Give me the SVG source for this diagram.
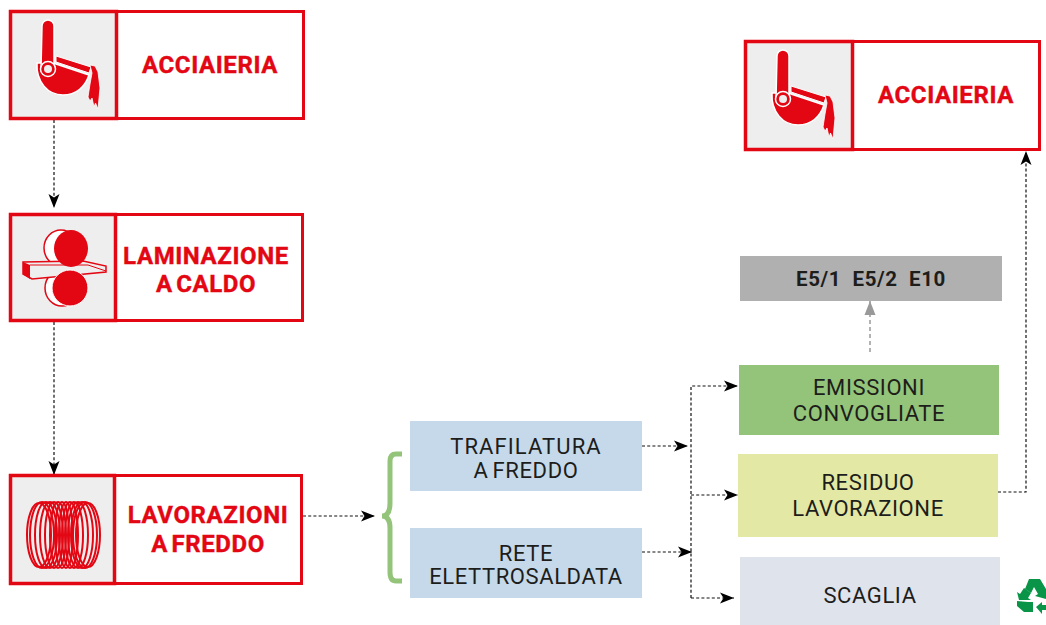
<svg xmlns="http://www.w3.org/2000/svg" xmlns:xlink="http://www.w3.org/1999/xlink" width="1046" height="625" viewBox="0 0 1046 625">
<style>
.frame{fill:#fff;stroke:#e30613;stroke-width:3}
.ico{fill:#eeeeee;stroke:#e30613;stroke-width:3.500}
.rt{font-family:"Roboto","Liberation Sans",sans-serif;font-weight:700;font-size:24px;fill:#e30613;stroke:#e30613;stroke-width:.4;text-anchor:middle;letter-spacing:.6px;word-spacing:-3px}
.bt{font-family:"Roboto","Liberation Sans",sans-serif;font-size:22px;fill:#1d1d1b;text-anchor:middle;letter-spacing:.6px;word-spacing:-2px}
.con{fill:none;stroke:#111;stroke-width:1.200;stroke-dasharray:3 2.200}
.con2{fill:none;stroke:#999;stroke-width:1.500;stroke-dasharray:4 3}
</style>
<defs>
<marker id="ah" markerUnits="userSpaceOnUse" markerWidth="16" markerHeight="12" refX="14" refY="6" orient="auto"><path d="M0 0.500L14 6L0 11.500L3.500 6Z" fill="#000"/></marker>
<marker id="ag" markerUnits="userSpaceOnUse" markerWidth="16" markerHeight="14" refX="14" refY="6" orient="auto"><path d="M0 0.500L14 6L0 11.500L0 6Z" fill="#999"/></marker>
<g id="ladle">
<path d="M37 63C36 82 48 95 63 95C76 95 85 87 89 75L56 64L54 63Z" fill="#e30613" stroke="#fff" stroke-width="1.500"/>
<path d="M56 56L91 67L89 73L56 62Z" fill="#e30613" stroke="#fff" stroke-width="1"/>
<path d="M90 65L95 66L98 72L100 88L98 109L95.500 103L94 107L92 98L90 101L88 97L90 84L92 73Z" fill="#e30613" stroke="#fff" stroke-width=".8"/>
<path d="M42 26A6 6 0 0 1 54 26V69A6.500 6.500 0 0 1 41 69Z" fill="#e30613" stroke="#fff" stroke-width="1.500"/>
<circle cx="48" cy="69" r="7.500" fill="#e30613" stroke="#fff" stroke-width="1.500"/>
<circle cx="48" cy="69" r="4" fill="#eee"/>
</g>
</defs>

<g id="connectors">
<path class="con" d="M54 120V208" marker-end="url(#ah)"/>
<path class="con" d="M54 322V475" marker-end="url(#ah)"/>
<path class="con" d="M303 516H375" marker-end="url(#ah)"/>
<path class="con" d="M642 446H688" marker-end="url(#ah)"/>
<path class="con" d="M642 552H692" marker-end="url(#ah)"/>
<path class="con" d="M691 598V386H738" marker-end="url(#ah)"/>
<path class="con" d="M691 495H738" marker-end="url(#ah)"/>
<path class="con" d="M691 598H734" marker-end="url(#ah)"/>
<path class="con" d="M998 492H1026V151" marker-end="url(#ah)"/>
<path class="con2" d="M870 352V301" marker-end="url(#ag)"/>
<path d="M402 454H396Q390 454 390 461V503Q390 516 382 516Q390 516 390 528V572Q390 581 396 581H402" fill="none" stroke="#93c47a" stroke-width="5"/>
</g>

<g id="n-acciaieria-1">
<rect class="frame" x="10.500" y="11.500" width="293" height="107"/>
<rect class="ico" x="10.500" y="11.500" width="106" height="107"/>
<use href="#ladle"/>
<text class="rt" x="210" y="73">ACCIAIERIA</text>
</g>

<g id="n-laminazione">
<rect class="frame" x="10.500" y="214.500" width="292" height="106"/>
<rect class="ico" x="10.500" y="214.500" width="105" height="106"/>
<g stroke="#e30613" stroke-width="1.500" fill="#fff">
<ellipse cx="61" cy="248" rx="17" ry="18"/>
<ellipse cx="62" cy="288" rx="17" ry="18"/>
</g>
<path d="M23 262L83 261L106 266V272L32 279L23 274Z" fill="#eee" stroke="#e30613" stroke-width="1.500"/>
<path d="M23 262L30 265V279L23 274Z" fill="#e30613"/>
<path d="M30 265H88L106 271" fill="none" stroke="#e30613" stroke-width="1"/>
<ellipse cx="71" cy="248.500" rx="17" ry="18.500" fill="#e30613"/>
<ellipse cx="70" cy="288" rx="18" ry="18" fill="#e30613" stroke="#fff" stroke-width="1"/>
<text class="rt" x="206" y="264">LAMINAZIONE</text>
<text class="rt" x="206" y="292">A CALDO</text>
</g>

<g id="n-lavorazioni">
<rect class="frame" x="10.500" y="475.500" width="291" height="108"/>
<rect class="ico" x="10.500" y="475.500" width="104" height="108"/>
<g fill="none" stroke="#e30613" stroke-width="2">
<ellipse cx="39" cy="535" rx="12" ry="32"/><ellipse cx="42" cy="535" rx="12" ry="33"/><ellipse cx="46" cy="535" rx="11" ry="33"/><ellipse cx="50" cy="535" rx="10" ry="33"/><ellipse cx="54" cy="535" rx="9" ry="33"/><ellipse cx="58" cy="535" rx="8" ry="33"/><ellipse cx="62" cy="535" rx="7" ry="33"/><ellipse cx="66" cy="535" rx="7" ry="33"/><ellipse cx="70" cy="535" rx="8" ry="33"/><ellipse cx="74" cy="535" rx="9" ry="33"/><ellipse cx="78" cy="535" rx="10" ry="33"/><ellipse cx="82" cy="535" rx="11" ry="33"/><ellipse cx="85" cy="535" rx="12" ry="33"/><ellipse cx="88" cy="535" rx="12" ry="32"/>
</g>
<text class="rt" x="208" y="523">LAVORAZIONI</text>
<text class="rt" x="208" y="552">A FREDDO</text>
</g>

<g id="n-trafilatura">
<rect x="410" y="421" width="232" height="70" fill="#c5d9ea"/>
<text class="bt" x="526" y="454" style="letter-spacing:1.100px">TRAFILATURA</text>
<text class="bt" x="526" y="478">A FREDDO</text>
</g>
<g id="n-rete">
<rect x="410" y="528" width="232" height="70" fill="#c5d9ea"/>
<text class="bt" x="526" y="561">RETE</text>
<text class="bt" x="526" y="584">ELETTROSALDATA</text>
</g>
<g id="n-emissioni">
<rect x="739" y="365" width="260" height="70" fill="#93c47a"/>
<text class="bt" x="869" y="395">EMISSIONI</text>
<text class="bt" x="869" y="421">CONVOGLIATE</text>
</g>
<g id="n-residuo">
<rect x="738" y="454" width="260" height="83" fill="#e3e8a4"/>
<text class="bt" x="868" y="490">RESIDUO</text>
<text class="bt" x="868" y="516">LAVORAZIONE</text>
</g>
<g id="n-scaglia">
<rect x="740" y="557" width="260" height="68" fill="#dfe3ec"/>
<text class="bt" x="870" y="603">SCAGLIA</text>
</g>
<g id="n-e5">
<rect x="740" y="256" width="262" height="45" fill="#b0b0b0"/>
<text x="871" y="286" text-anchor="middle" style="font-family:'Roboto','Liberation Sans',sans-serif;font-weight:700;font-size:20.500px;fill:#1d1d1b;letter-spacing:.6px" xml:space="preserve">E5/1  E5/2  E10</text>
</g>

<g id="n-acciaieria-2">
<rect class="frame" x="745.500" y="41.500" width="294" height="108"/>
<rect class="ico" x="745.500" y="41.500" width="107" height="108"/>
<use href="#ladle" x="735" y="30"/>
<text class="rt" x="946" y="103">ACCIAIERIA</text>
</g>

<g id="recycle" fill="#0a9447">
<path d="M1029 579H1040L1046 589L1049 587L1046 599L1035 596L1038 594L1034 587L1031 593L1025 589Z"/>
<path d="M1024 588L1031 593L1028 598L1031 600L1019 600L1017 592L1020 594Z"/>
<path d="M1017 601L1028 602L1033 602V612H1024L1017 606Z"/>
<path d="M1036 607L1042 602V605H1046V610H1042V614Z"/>
</g>
</svg>
